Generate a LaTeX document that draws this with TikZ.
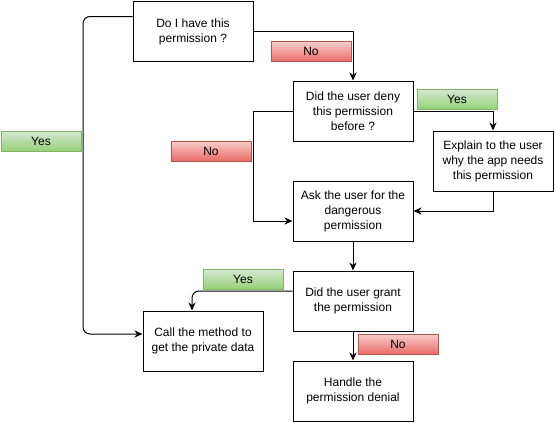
\documentclass[tikz,border=0pt]{standalone}
\usepackage{fontspec}
\setmainfont{Liberation Sans}
\usetikzlibrary{arrows.meta}
\definecolor{redtop}{HTML}{F8CECC}
\definecolor{redbot}{HTML}{EA6B66}
\definecolor{redline}{HTML}{B85450}
\definecolor{greentop}{HTML}{D5E8D4}
\definecolor{greenbot}{HTML}{97D077}
\definecolor{greenline}{HTML}{82B366}
\begin{document}
\begin{tikzpicture}[x=1pt,y=-1pt,
  box/.style={draw, line width=1pt, minimum width=120pt, minimum height=60pt,
    align=center, inner sep=2pt, font=\fontsize{12}{15}\selectfont},
  lab/.style={minimum width=80pt, minimum height=20pt, inner sep=0pt,
    font=\fontsize{12}{14}\selectfont, line width=1pt},
  nolab/.style={lab, draw=redline, top color=redtop, bottom color=redbot},
  yeslab/.style={lab, draw=greenline, top color=greentop, bottom color=greenbot},
  arr/.style={line width=1pt, -{Stealth[length=8pt,width=7pt,inset=2.5pt]}}]
\useasboundingbox (0,0) rectangle (555,423);
\node[box] (A) at (193,31.5) {Do I have this\\permission ?};
\node[box] (B) at (353,111) {Did the user deny\\this permission\\before ?};
\node[box] (C) at (493,161) {Explain to the user\\why the app needs\\this permission};
\node[box] (D) at (353,211) {Ask the user for the\\dangerous\\permission};
\node[box] (E) at (353,301) {Did the user grant\\the permission};
\node[box] (F) at (353,391) {Handle the\\permission denial};
\node[box] (G) at (203,341) {Call the method to\\get the private data};
\node[nolab] (n1) at (311,51.5) {No};
\node[yeslab] (y1) at (457,99) {Yes};
\node[yeslab] (y2) at (41,141) {Yes};
\node[nolab] (n2) at (211,151) {No};
\node[yeslab] (y3) at (243,279) {Yes};
\node[nolab] (n3) at (398,344) {No};
\coordinate (l1) at (83,334);
\coordinate (l2) at (253,221);
\draw[arr] (A.east) -| (B.north);
\draw[arr, rounded corners=7pt] ([yshift=15pt]A.west) -| (l1) -- ([yshift=7pt]G.west);
\draw[arr] (B.west) -| (l2) -- ([yshift=-10pt]D.west);
\draw[arr] (B.east) -| (C.north);
\draw[arr] (C.south) |- (D.east);
\draw[arr] (D.south) -- (E.north);
\draw[arr, rounded corners=7pt] ([yshift=10pt]E.west) -| ([xshift=-11pt]G.north);
\draw[arr] (E.south) -- (F.north);
\end{tikzpicture}
\end{document}
